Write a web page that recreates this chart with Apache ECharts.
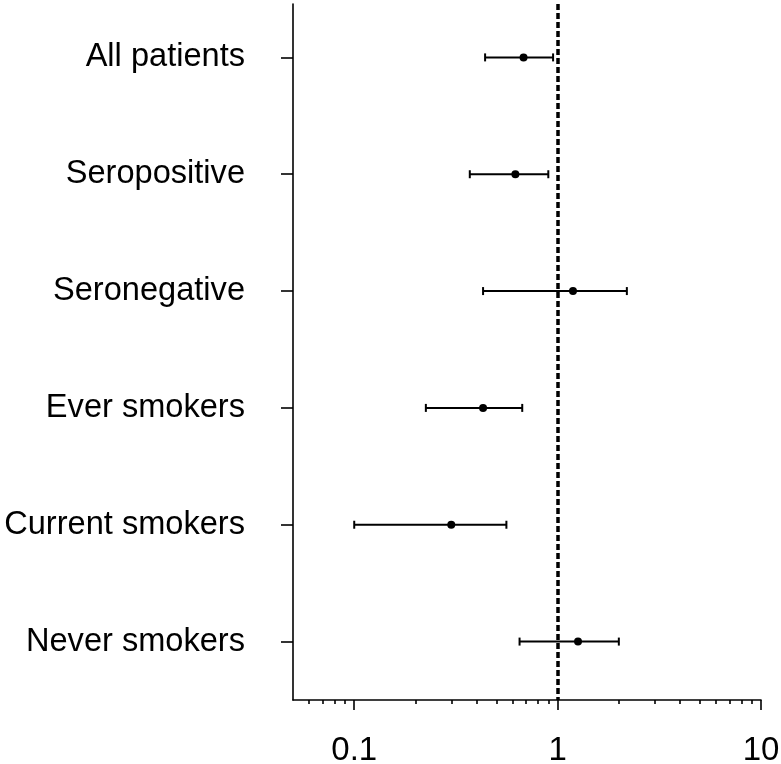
<!DOCTYPE html>
<html>
<head>
<meta charset="utf-8">
<script src="https://cdn.jsdelivr.net/npm/echarts@6/dist/echarts.min.js"></script>
<style>html,body{margin:0;padding:0;background:#fff;}#chart{width:781px;height:764px;}</style>
</head>
<body>
<div id="chart"></div>
<script>
var categories = ['All patients', 'Seropositive', 'Seronegative', 'Ever smokers', 'Current smokers', 'Never smokers'];
var estimate = [0.68, 0.62, 1.19, 0.43, 0.30, 1.26];
var lower = [0.44, 0.37, 0.43, 0.225, 0.10, 0.65];
var upper = [0.95, 0.90, 2.19, 0.67, 0.56, 2.00];
var majorTicks = [0.1, 1, 10];
var minorTicks = [0.06, 0.07, 0.08, 0.09, 0.2, 0.3, 0.4, 0.5, 0.6, 0.7, 0.8, 0.9, 2, 3, 4, 5, 6, 7, 8, 9];
var refValue = 1;

var positions = categories.map(function (c, i) { return i + 1; });
var ciData = categories.map(function (c, i) { return [lower[i], upper[i], positions[i]]; });
var pointData = categories.map(function (c, i) { return [estimate[i], positions[i]]; });

var FONT = 'Liberation Sans, Arial, sans-serif';
var chart = echarts.init(document.getElementById('chart'));
chart.setOption({
  animation: false,
  backgroundColor: '#fff',
  grid: { left: 293, right: 20, top: 4, bottom: 64, containLabel: false, outerBoundsMode: 'none' },
  xAxis: [{
    type: 'log', logBase: 10, min: 0.05, max: 10,
    axisLine: { show: true, lineStyle: { color: '#000', width: 1.6 } },
    axisTick: { show: true, length: 10, customValues: majorTicks, lineStyle: { color: '#000', width: 1.6 } },
    axisLabel: { show: true, customValues: majorTicks, margin: 34, color: '#000', fontSize: 33, fontFamily: FONT,
      formatter: function (v) { return String(+v.toPrecision(3)); } },
    splitLine: { show: false }
  }, {
    type: 'log', logBase: 10, min: 0.05, max: 10, position: 'bottom',
    axisLine: { show: false },
    axisTick: { show: true, length: 4, customValues: minorTicks, lineStyle: { color: '#000', width: 1.6 } },
    axisLabel: { show: false },
    splitLine: { show: false }
  }],
  yAxis: {
    type: 'value', inverse: true, min: 0.543, max: 6.5,
    axisLine: { show: true, lineStyle: { color: '#000', width: 1.6 } },
    axisTick: { show: true, length: 12, customValues: positions, lineStyle: { color: '#000', width: 1.6 } },
    axisLabel: { show: true, customValues: positions, margin: 48, color: '#000', fontSize: 32.6, fontFamily: FONT,
      formatter: function (v) { return categories[Math.round(v) - 1] || ''; } },
    splitLine: { show: false }
  },
  series: [{
    type: 'custom',
    xAxisIndex: 0,
    data: ciData,
    renderItem: function (params, api) {
      var lo = api.coord([api.value(0), api.value(2)]);
      var hi = api.coord([api.value(1), api.value(2)]);
      var h = 4;
      var style = { stroke: '#000', lineWidth: 2 };
      return {
        type: 'group',
        children: [
          { type: 'line', shape: { x1: lo[0], y1: lo[1], x2: hi[0], y2: hi[1] }, style: style },
          { type: 'line', shape: { x1: lo[0], y1: lo[1] - h, x2: lo[0], y2: lo[1] + h }, style: style },
          { type: 'line', shape: { x1: hi[0], y1: hi[1] - h, x2: hi[0], y2: hi[1] + h }, style: style }
        ]
      };
    },
    z: 3
  }, {
    type: 'scatter',
    xAxisIndex: 0,
    data: pointData,
    symbol: 'circle',
    symbolSize: 8,
    itemStyle: { color: '#000', opacity: 1 },
    z: 4,
    markLine: {
      silent: true,
      symbol: ['none', 'none'],
      label: { show: false },
      lineStyle: { color: '#000', width: 3.5, type: [6, 3], opacity: 1 },
      data: [{ xAxis: refValue }]
    }
  }]
});
</script>
</body>
</html>
